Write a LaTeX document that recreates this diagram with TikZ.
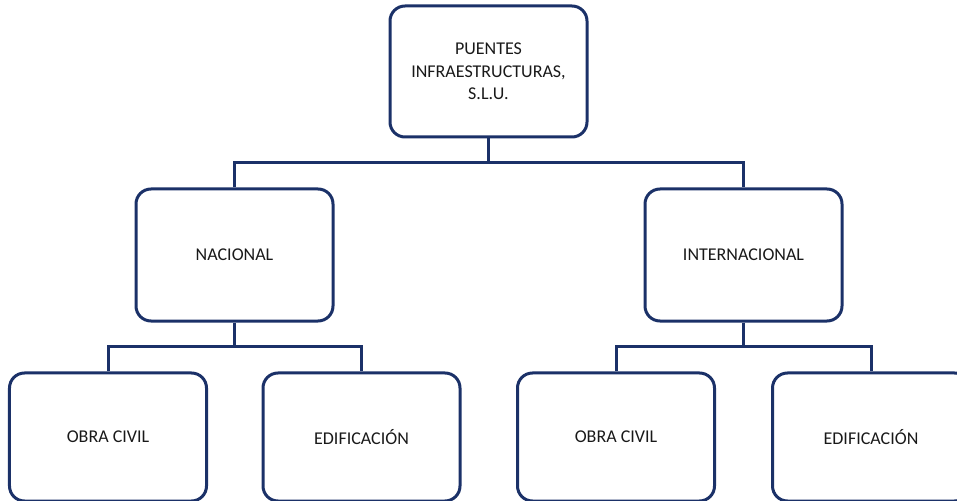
\documentclass[tikz,border=0pt]{standalone}
\usepackage{fontspec}
\setmainfont{Carlito}
\definecolor{navy}{HTML}{1B3168}
\begin{document}
\begin{tikzpicture}[x=1bp,y=-1bp,
  orgbox/.style={draw=navy,line width=3bp,rounded corners=15bp,minimum width=197bp,
    align=center,inner sep=2bp,font=\fontsize{18bp}{22.5bp}\selectfont,text=black!90},
  link/.style={draw=navy,line width=3bp}]
\useasboundingbox (0,0) rectangle (957,501);
\begin{scope}
\clip (0,0) rectangle (957,501);
\node[orgbox,minimum height=131bp] (top) at (488.5,71.5) {PUENTES\\INFRAESTRUCTURAS,\\S.L.U.};
\node[orgbox,minimum height=132bp] (nac) at (234.5,255) {NACIONAL};
\node[orgbox,minimum height=132bp] (int) at (743.5,255) {INTERNACIONAL};
\node[orgbox,minimum height=128bp] (oc1) at (108,437) {OBRA CIVIL};
\node[orgbox,minimum height=128bp] (ed1) at (361.5,437) {EDIFICACIÓN};
\node[orgbox,minimum height=128bp] (oc2) at (616,437) {OBRA CIVIL};
\node[orgbox,minimum height=128bp] (ed2) at (871,437) {EDIFICACIÓN};
\coordinate (bus1) at (488.5,163);
\coordinate (bus2) at (234.5,346);
\coordinate (bus3) at (743.5,346);
\draw[link] (top.south) -- (bus1);
\draw[link] (nac.north) |- (bus1) -| (int.north);
\draw[link] (nac.south) -- (bus2);
\draw[link] (oc1.north) |- (bus2) -| (ed1.north);
\draw[link] (int.south) -- (bus3);
\draw[link] (oc2.north) |- (bus3) -| (ed2.north);
\end{scope}
\end{tikzpicture}
\end{document}
